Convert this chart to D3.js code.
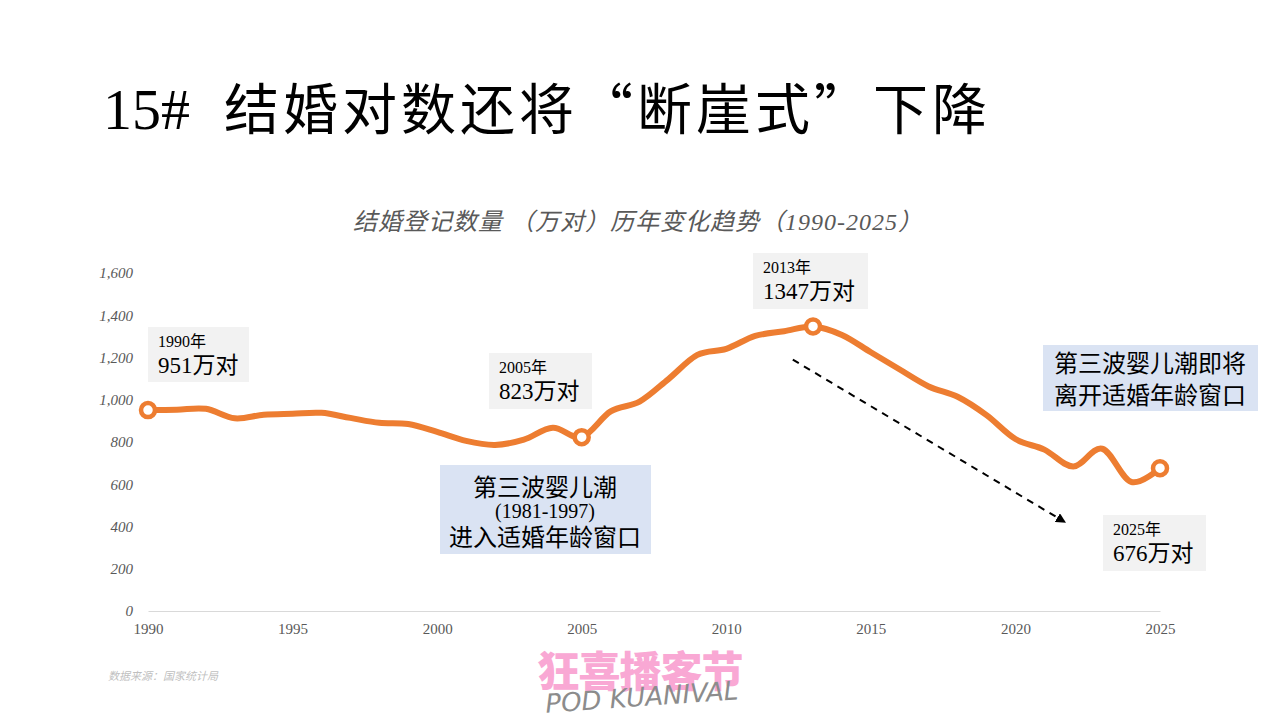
<!DOCTYPE html>
<html>
<head>
<meta charset="utf-8">
<script src="https://cdn.jsdelivr.net/npm/d3@7"></script>
<style>
	body { margin: 0; background: #fff; }
	svg { display: block; }
</style>
</head>
<body>
<div id="chart"></div>
<script>
// Data
const years = [1990, 1991, 1992, 1993, 1994, 1995, 1996, 1997, 1998, 1999,
	2000, 2001, 2002, 2003, 2004, 2005, 2006, 2007, 2008, 2009,
	2010, 2011, 2012, 2013, 2014, 2015, 2016, 2017, 2018, 2019,
	2020, 2021, 2022, 2023, 2024, 2025]
const marriages = [951, 953, 957, 912, 929, 934, 938, 914, 891, 885,
	848, 805, 786, 811, 867, 823, 945, 991, 1098, 1212,
	1241, 1302, 1324, 1347, 1307, 1225, 1143, 1063, 1014, 927,
	814, 764, 684, 768, 611, 676]
const markedYears = [1990, 2005, 2013, 2025]
const yTicks = [0, 200, 400, 600, 800, 1000, 1200, 1400, 1600]
const xTicks = [1990, 1995, 2000, 2005, 2010, 2015, 2020, 2025]

const dataset = years.map((y, i) => ({ year: y, value: marriages[i] }))

function draw() {
	let dimensions = {
		width: 1280,
		height: 720,
		margin: { top: 273, bottom: 109, left: 148, right: 120 }
	}
	dimensions.ctrWidth = dimensions.width - dimensions.margin.left - dimensions.margin.right
	dimensions.ctrHeight = dimensions.height - dimensions.margin.top - dimensions.margin.bottom

	const xAccessor = d => d.year
	const yAccessor = d => d.value

	const serif = '"Liberation Serif", "Noto Sans CJK SC", serif'
	const cjk = '"Noto Sans CJK SC", sans-serif'

	const svg = d3.select('#chart')
		.append('svg')
		.attr('width', dimensions.width)
		.attr('height', dimensions.height)

	// Title
	const title = svg.append('text')
		.attr('x', 103)
		.attr('y', 129)
		.attr('font-size', 55)
		.attr('fill', '#000')
	title.append('tspan')
		.attr('font-family', serif)
		.attr('font-size', 58)
		.text('15#')
	title.append('tspan')
		.attr('font-family', cjk)
		.attr('dx', 34)
		.attr('letter-spacing', 4)
		.text('结婚对数还将“断崖式”下降')

	svg.append('text')
		.attr('x', 638)
		.attr('y', 230)
		.attr('text-anchor', 'middle')
		.attr('font-family', serif)
		.attr('font-style', 'italic')
		.attr('font-size', 24)
		.attr('letter-spacing', 1)
		.attr('fill', '#595959')
		.text('结婚登记数量 （万对）历年变化趋势（1990-2025）')

	const ctr = svg.append('g')
		.attr('transform', `translate(${dimensions.margin.left}, ${dimensions.margin.top})`)

	// Scales
	const xScale = d3.scaleLinear()
		.domain([1990, 2025])
		.range([0, dimensions.ctrWidth])

	const yScale = d3.scaleLinear()
		.domain([0, 1600])
		.range([dimensions.ctrHeight, 0])

	// Axes
	const yAxis = d3.axisLeft(yScale)
		.tickValues(yTicks)
		.tickFormat(d3.format(','))
		.tickSize(0)
		.tickPadding(15)
	const yG = ctr.append('g').call(yAxis)
	yG.select('.domain').remove()
	yG.selectAll('text')
		.attr('font-family', serif)
		.attr('font-style', 'italic')
		.attr('font-size', 15)
		.attr('fill', '#595959')

	const xAxis = d3.axisBottom(xScale)
		.tickValues(xTicks)
		.tickFormat(d3.format('d'))
		.tickSize(0)
		.tickPadding(12)
	const xG = ctr.append('g')
		.attr('transform', `translate(0, ${dimensions.ctrHeight})`)
		.call(xAxis)
	xG.select('.domain').attr('stroke', '#d9d9d9').attr('stroke-width', 1)
	xG.selectAll('text')
		.attr('font-family', serif)
		.attr('font-size', 15)
		.attr('fill', '#595959')

	// Line
	const line = d3.line()
		.x(d => xScale(xAccessor(d)))
		.y(d => yScale(yAccessor(d)))
		.curve(d3.curveCatmullRom.alpha(0))

	ctr.append('path')
		.datum(dataset)
		.attr('d', line)
		.attr('fill', 'none')
		.attr('stroke', '#ED7D31')
		.attr('stroke-width', 6)
		.attr('stroke-linejoin', 'round')
		.attr('stroke-linecap', 'round')

	// Dashed arrow
	svg.append('defs').append('marker')
		.attr('id', 'arrow')
		.attr('viewBox', '0 0 10 10')
		.attr('refX', 5).attr('refY', 5)
		.attr('markerWidth', 5).attr('markerHeight', 5)
		.attr('orient', 'auto')
		.append('path')
		.attr('d', 'M0,0 L10,5 L0,10 z')
		.attr('fill', '#000')

	ctr.append('line')
		.attr('x1', xScale(2012.3)).attr('y1', yScale(1190))
		.attr('x2', xScale(2021.6)).attr('y2', yScale(430))
		.attr('stroke', '#000')
		.attr('stroke-width', 2)
		.attr('stroke-dasharray', '7,6')
		.attr('marker-end', 'url(#arrow)')

	// Markers
	ctr.selectAll('circle.mark')
		.data(dataset.filter(d => markedYears.includes(d.year)))
		.join('circle')
		.attr('class', 'mark')
		.attr('cx', d => xScale(xAccessor(d)))
		.attr('cy', d => yScale(yAccessor(d)))
		.attr('r', 7)
		.attr('fill', '#fff')
		.attr('stroke', '#ED7D31')
		.attr('stroke-width', 4.5)

	// Value callouts (gray boxes)
	const callouts = [
		{ year: 1990, x: 148, y: 327, w: 101, h: 55 },
		{ year: 2005, x: 489, y: 353, w: 103, h: 56 },
		{ year: 2013, x: 753, y: 253, w: 115, h: 56 },
		{ year: 2025, x: 1103, y: 515, w: 103, h: 56 }
	]
	callouts.forEach(c => {
		const d = dataset.find(p => p.year === c.year)
		svg.append('rect')
			.attr('x', c.x).attr('y', c.y)
			.attr('width', c.w).attr('height', c.h)
			.attr('fill', '#F2F2F2')
		svg.append('text')
			.attr('x', c.x + 10).attr('y', c.y + 20)
			.attr('font-family', serif)
			.attr('font-size', 16)
			.attr('fill', '#000')
			.text(`${d.year}年`)
		svg.append('text')
			.attr('x', c.x + 10).attr('y', c.y + 46)
			.attr('font-family', serif)
			.attr('font-size', 23)
			.attr('fill', '#000')
			.text(`${d.value}万对`)
	})

	// Blue notes
	svg.append('rect')
		.attr('x', 440).attr('y', 465)
		.attr('width', 211).attr('height', 89)
		.attr('fill', '#DAE3F3')
	const n1 = svg.append('text')
		.attr('text-anchor', 'middle')
		.attr('font-family', serif)
		.attr('fill', '#000')
	n1.append('tspan').attr('x', 545).attr('y', 496).attr('font-size', 24).text('第三波婴儿潮')
	n1.append('tspan').attr('x', 545).attr('y', 518).attr('font-size', 20).text('(1981-1997)')
	n1.append('tspan').attr('x', 545).attr('y', 546).attr('font-size', 24).text('进入适婚年龄窗口')

	svg.append('rect')
		.attr('x', 1043).attr('y', 345)
		.attr('width', 215).attr('height', 66)
		.attr('fill', '#DAE3F3')
	const n2 = svg.append('text')
		.attr('text-anchor', 'middle')
		.attr('font-family', serif)
		.attr('font-size', 24)
		.attr('fill', '#000')
	n2.append('tspan').attr('x', 1150).attr('y', 372).text('第三波婴儿潮即将')
	n2.append('tspan').attr('x', 1150).attr('y', 404).text('离开适婚年龄窗口')

	// Source
	svg.append('text')
		.attr('x', 108).attr('y', 680)
		.attr('font-family', cjk)
		.attr('font-style', 'italic')
		.attr('font-size', 11)
		.attr('fill', '#BFBFBF')
		.text('数据来源：国家统计局')

	// Logo
	svg.append('text')
		.attr('x', 640).attr('y', 687)
		.attr('text-anchor', 'middle')
		.attr('font-family', cjk)
		.attr('font-weight', 900)
		.attr('font-size', 42)
		.attr('fill', '#F9A8D4')
		.attr('letter-spacing', -1)
		.text('狂喜播客节')
	svg.append('text')
		.attr('x', 642).attr('y', 706)
		.attr('text-anchor', 'middle')
		.attr('font-family', '"DejaVu Sans", sans-serif')
		.attr('font-style', 'italic')
		.attr('font-size', 26)
		.attr('fill', '#8c8c8c')
		.attr('transform', 'rotate(-4 642 700)')
		.text('POD KUANIVAL')
}

draw()
</script>
</body>
</html>
